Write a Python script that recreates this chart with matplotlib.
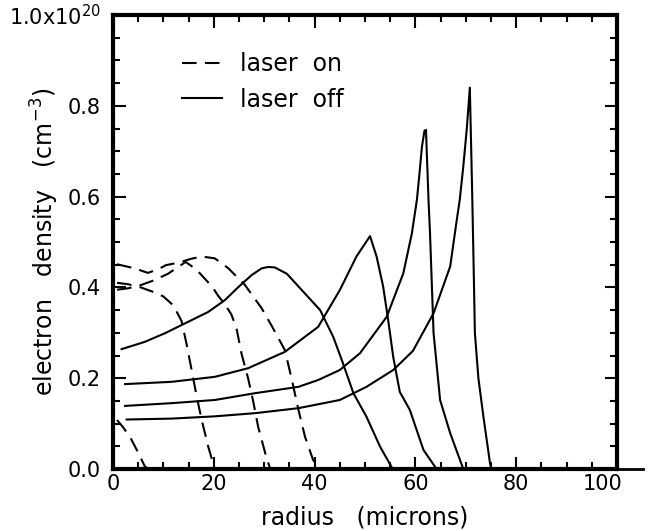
import numpy as np
import matplotlib
matplotlib.use("Agg")
import matplotlib.pyplot as plt
import matplotlib.transforms as mtransforms
from matplotlib.ticker import MultipleLocator

plt.rcParams['font.family'] = ['DejaVu Sans']
plt.rcParams['mathtext.fontset'] = 'dejavusans'
plt.rcParams['mathtext.default'] = 'regular'

# laser on (dashed)
on1_r = [0.8, 2.0, 3.5, 5.0, 6.3, 7.0]
on1_n = [0.108, 0.092, 0.068, 0.036, 0.006, 0.0]
on2_r = [0.8, 3.0, 5.5, 8.0, 10.0, 12.0, 13.6, 14.6, 15.6, 16.6, 17.6, 18.9, 20.2]
on2_n = [0.41, 0.407, 0.40, 0.39, 0.38, 0.36, 0.326, 0.275, 0.218, 0.16, 0.108, 0.049, 0.0]
on3_r = [0.8, 3.0, 5.5, 8.0, 10.9, 13.2, 14.4, 16.5, 18.3, 19.6, 20.9, 22.2, 23.5,
         24.5, 25.5, 26.8, 27.8, 28.8, 30.2, 31.2]
on3_n = [0.395, 0.398, 0.405, 0.415, 0.43, 0.447, 0.456, 0.44, 0.418, 0.403, 0.381,
         0.363, 0.34, 0.31, 0.254, 0.2, 0.15, 0.093, 0.035, 0.0]
on4_r = [0.8, 4.3, 6.9, 9.0, 10.5, 13.2, 15.5, 17.6, 20.2, 22.9, 26.2, 29.5, 31.5,
         34.1, 35.5, 36.8, 38.1, 39.7, 41.0]
on4_n = [0.451, 0.442, 0.432, 0.44, 0.449, 0.455, 0.463, 0.468, 0.464, 0.442, 0.405,
         0.354, 0.315, 0.262, 0.196, 0.13, 0.071, 0.02, 0.0]

# laser off (solid)
off1_r = [1.7, 6.3, 10.3, 13.6, 18.9, 22.2, 24.9, 27.5, 29.5, 30.8, 32.1, 34.5, 37.8,
          41.1, 43.7, 45.4, 47.7, 50.3, 53.0, 55.5]
off1_n = [0.264, 0.28, 0.299, 0.317, 0.346, 0.372, 0.401, 0.427, 0.442, 0.445, 0.444,
          0.43, 0.39, 0.35, 0.291, 0.24, 0.167, 0.115, 0.049, 0.0]
off2_r = [2.4, 11.6, 20.2, 26.8, 34.1, 40.7, 45.0, 48.3, 51.0, 52.3, 53.6, 54.6, 55.6,
          56.9, 58.9, 61.6, 64.2]
off2_n = [0.187, 0.192, 0.203, 0.222, 0.258, 0.313, 0.394, 0.468, 0.513, 0.468, 0.402,
          0.328, 0.247, 0.17, 0.13, 0.042, 0.0]
off3_r = [2.4, 11.6, 20.2, 28.2, 36.8, 40.7, 45.0, 49.0, 54.3, 57.6, 59.3, 60.3, 60.8,
          61.3, 61.8, 62.1, 62.6, 62.9, 63.6, 64.9, 66.9, 69.5]
off3_n = [0.139, 0.145, 0.152, 0.167, 0.181, 0.196, 0.218, 0.255, 0.335, 0.431, 0.519,
          0.593, 0.65, 0.71, 0.745, 0.747, 0.593, 0.519, 0.3, 0.152, 0.079, 0.0]
off4_r = [2.7, 11.6, 20.2, 28.2, 36.8, 45.0, 50.3, 55.6, 59.5, 63.6, 66.9, 68.2, 68.8,
          69.5, 70.2, 70.8, 71.3, 71.6, 71.8, 72.5, 73.5, 74.8, 75.1]
off4_n = [0.109, 0.111, 0.116, 0.123, 0.134, 0.152, 0.181, 0.218, 0.26, 0.343, 0.446,
          0.548, 0.593, 0.666, 0.75, 0.84, 0.59, 0.42, 0.3, 0.2, 0.115, 0.013, 0.0]

laser_on = [(on1_r, on1_n), (on2_r, on2_n), (on3_r, on3_n), (on4_r, on4_n)]
laser_off = [(off1_r, off1_n), (off2_r, off2_n), (off3_r, off3_n), (off4_r, off4_n)]

ytick_vals = [0.0, 0.2, 0.4, 0.6, 0.8, 1.0]
ytick_labels = ['0.0', '0.2', '0.4', '0.6', '0.8', '1.0x10$^{20}$']
xtick_vals = [0, 20, 40, 60, 80, 100]

fig = plt.figure(figsize=(6.54, 5.31), dpi=100)
ax = fig.add_axes([113 / 654, 1 - 469 / 531, 504 / 654, 454 / 531])

for i, (r, n) in enumerate(laser_on):
    ax.plot(r, n, color='k', lw=1.5, dashes=(7, 4),
            label='laser  on' if i == 0 else None)
for i, (r, n) in enumerate(laser_off):
    ax.plot(r, n, color='k', lw=1.5,
            label='laser  off' if i == 0 else None)

ax.set_xlim(0, 100)
ax.set_ylim(0, 1.0)
ax.set_xticks(xtick_vals)
ax.set_yticks(ytick_vals, ytick_labels)
ax.xaxis.set_minor_locator(MultipleLocator(5))
ax.yaxis.set_minor_locator(MultipleLocator(0.05))
ax.tick_params(which='both', direction='in', top=True, right=True, width=1.5,
               labelsize=15, color='k')
ax.tick_params(which='major', length=9)
ax.tick_params(which='minor', length=5)
ax.tick_params(axis='x', pad=3.5)
ax.tick_params(axis='y', pad=9)
for s in ax.spines.values():
    s.set_linewidth(3)

# the "100" label sits a little left of its tick
lab = ax.get_xticklabels()[-1]
lab.set_transform(lab.get_transform() +
                  mtransforms.ScaledTranslation(-0.14, 0, fig.dpi_scale_trans))

# baseline runs past the right frame
ax.axhline(0, xmin=1, xmax=1.052, color='k', lw=2, clip_on=False)

ax.set_xlabel('radius   (microns)', fontsize=17)
ax.set_ylabel('electron   density   (cm$^{-3}$)', fontsize=17)
ax.xaxis.set_label_coords(0.5, -0.08)
ax.yaxis.set_label_coords(-0.104, 0.5)

ax.legend(loc='upper left', bbox_to_anchor=(0.137, 0.919), frameon=False,
          fontsize=17, handlelength=1.7, handletextpad=0.76, labelspacing=0.5,
          borderpad=0, borderaxespad=0)

fig.savefig('out.png', dpi=100)
